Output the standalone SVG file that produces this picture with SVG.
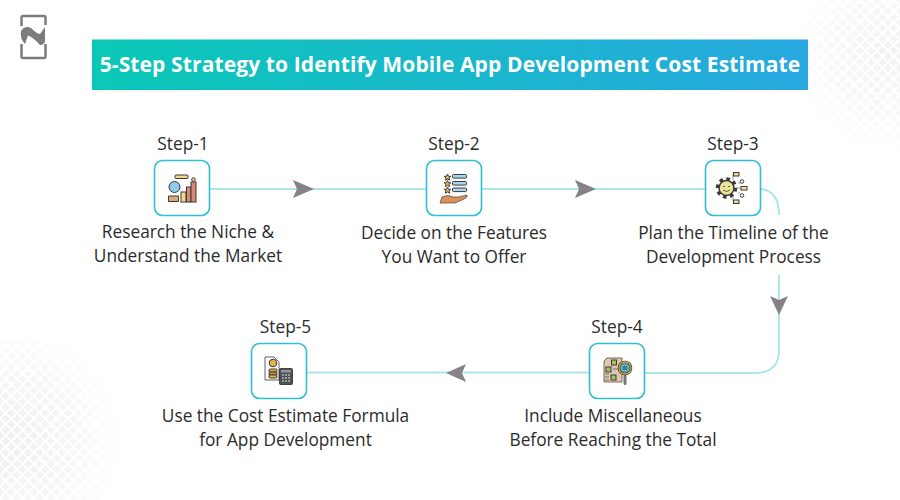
<svg xmlns="http://www.w3.org/2000/svg" width="900" height="500" viewBox="0 0 900 500">
<style>
.t{font-family:"Open Sans","Liberation Sans",sans-serif;font-size:17.300px;fill:#2b2b2b;text-anchor:middle}
.c{fill:none;stroke:#aee6ea;stroke-width:2}
.b{fill:#fff;stroke:#2dbfd2;stroke-width:1.600}
.a{fill:#858387}
.k{stroke:#3a3a3a;stroke-width:1}
</style>
<defs>
<linearGradient id="tg" x1="0" x2="1" y1="0" y2="0"><stop offset="0" stop-color="#0ac8b6"/><stop offset="1" stop-color="#27a8df"/></linearGradient>
<pattern id="dots" width="8" height="8" patternUnits="userSpaceOnUse" patternTransform="rotate(45)"><rect x="1" y="1" width="6" height="6" fill="#e9e9e9"/></pattern>
<radialGradient id="f1" gradientUnits="userSpaceOnUse" cx="5" cy="440" r="120"><stop offset="0" stop-color="#fff" stop-opacity=".7"/><stop offset=".55" stop-color="#fff" stop-opacity=".4"/><stop offset="1" stop-color="#fff" stop-opacity="0"/></radialGradient>
<radialGradient id="f2" gradientUnits="userSpaceOnUse" cx="890" cy="55" r="100"><stop offset="0" stop-color="#fff" stop-opacity=".55"/><stop offset=".6" stop-color="#fff" stop-opacity=".3"/><stop offset="1" stop-color="#fff" stop-opacity="0"/></radialGradient>
<mask id="m1"><rect width="900" height="500" fill="url(#f1)"/></mask>
<mask id="m2"><rect width="900" height="500" fill="url(#f2)"/></mask>
</defs>
<rect width="900" height="500" fill="#fff"/>
<rect x="0" y="340" width="130" height="160" fill="url(#dots)" mask="url(#m1)"/>
<rect x="790" y="0" width="110" height="155" fill="url(#dots)" mask="url(#m2)"/>
<g id="logo">
<path d="M21.500 26V17.500Q21.500 16 23 16H44Q45.500 16 45.500 17.500V25" fill="none" stroke="#7c7c7c" stroke-width="2.500"/>
<path d="M21.500 44V56.500Q21.500 58 23 58H44Q45.500 58 45.500 56.500V44" fill="none" stroke="#7c7c7c" stroke-width="2.500"/>
<path d="M21 31Q25 25 31 28Q37 34 40 34L45 27V41Q44.500 45 40 45Q33 37 28 35.500L25 44Q19.500 38 21 31Z" fill="#7c7c7c"/>
</g>
<g id="title">
<rect x="92" y="39.500" width="716" height="50.500" fill="url(#tg)"/>
<text x="450" y="72" text-anchor="middle" font-family="'Open Sans','Liberation Sans',sans-serif" font-weight="700" font-size="21" letter-spacing=".12" fill="#fff">5-Step Strategy to Identify Mobile App Development Cost Estimate</text>
</g>
<g id="connectors">
<path class="c" d="M210 189H426"/>
<path class="c" d="M482 189H705"/>
<path class="c" d="M761 189Q779 191 779 215"/>
<path class="c" d="M779 275V350Q779 373 755 373H645"/>
<path class="c" d="M589 372.500H307"/>
<path class="a" d="M293 180L314 189L293 198L297 189Z"/>
<path class="a" d="M575 180L596 189L575 198L579 189Z"/>
<path class="a" d="M770 296L779 300L788 296L779 315Z"/>
<path class="a" d="M466 364L446 373L466 382L462 373Z"/>
</g>
<g id="step-1">
<text class="t" x="183" y="150">Step-1</text>
<rect class="b" x="154.500" y="160.500" width="55" height="55" rx="8"/>
<rect class="k" x="175" y="175" width="13" height="3.500" rx="1" fill="#f0d98c"/>
<rect class="k" x="186.500" y="187" width="4.500" height="15" fill="#d88a72"/>
<rect class="k" x="191" y="182" width="5" height="20" fill="#d88a72"/>
<rect class="k" x="181" y="192" width="5" height="10" fill="#f0d98c"/>
<circle class="k" cx="174.500" cy="187" r="5.500" fill="#8fc8e8" stroke-width="1.500"/>
<path class="k" d="M168.500 196h10v5.500h-10z" fill="#e0a878"/>
<circle class="k" cx="193.500" cy="179.500" r="1.800" fill="#f0d98c"/>
</g>
<g id="step-2">
<text class="t" x="454" y="150">Step-2</text>
<rect class="b" x="426.500" y="160.500" width="55" height="55" rx="8"/>
<path class="k" d="M447.500 174l1 2.300h2.300l-1.800 1.600.6 2.300-2.100-1.300-2.100 1.300.6-2.300-1.800-1.600h2.300z" fill="#e6c34a" stroke-width=".7"/>
<path class="k" d="M447.500 180.500l1 2.300h2.300l-1.800 1.600.6 2.300-2.100-1.300-2.100 1.300.6-2.300-1.800-1.600h2.300z" fill="#e6c34a" stroke-width=".7"/>
<path class="k" d="M447.500 187l1 2.300h2.300l-1.800 1.600.6 2.300-2.100-1.300-2.100 1.300.6-2.300-1.800-1.600h2.300z" fill="#e6c34a" stroke-width=".7"/>
<rect class="k" x="452.500" y="174.500" width="14" height="3.600" rx="1" fill="#a9d3ee"/>
<rect class="k" x="452.500" y="181.500" width="14" height="3.600" rx="1" fill="#a9d3ee"/>
<rect class="k" x="452.500" y="188" width="14" height="3.600" rx="1" fill="#a9d3ee"/>
<path d="M440 203L442 197Q448 194 453 197H459L467 195Q468 197 464 199L455 203Z" fill="#d9925f" stroke="#5a3a28" stroke-width=".7"/>
</g>
<g id="step-3">
<text class="t" x="733" y="150">Step-3</text>
<rect class="b" x="705.500" y="160.500" width="55" height="55" rx="8"/>
<path d="M733 180V174H734M738 183H740M737 188H741M738 193H740M733 196V201H734" fill="none" stroke="#8a8a8a" stroke-width=".8"/>
<circle cx="726.500" cy="188" r="9" fill="none" stroke="#3a3a3a" stroke-width="3.500" stroke-dasharray="3.500 3.500"/>
<circle cx="726.500" cy="188" r="7.500" fill="#efe59a" stroke="#3a3a3a" stroke-width="1.500"/>
<path d="M723 186.500h2M728 186.500h2M723 190q3.500 3 7 0" fill="none" stroke="#3a3a3a" stroke-width=".8"/>
<rect class="k" x="733.500" y="172.500" width="5.500" height="3.500" fill="#efd98c" stroke-width=".7"/>
<circle class="k" cx="742" cy="181.500" r="1.800" fill="#fff" stroke-width=".7"/>
<rect class="k" x="741" y="186.500" width="6" height="3.500" fill="#efe59a" stroke-width=".5"/>
<circle class="k" cx="742" cy="195.500" r="1.800" fill="#fff" stroke-width=".7"/>
<rect class="k" x="733.500" y="200" width="5.500" height="3.500" fill="#efd98c" stroke-width=".7"/>
</g>
<g id="step-4">
<text class="t" x="617" y="333">Step-4</text>
<rect class="b" x="589.500" y="343.500" width="55" height="55" rx="8"/>
<path d="M607 358H622V382H604V361Z" fill="#dcc7b0" stroke="#5a4a3a" stroke-width=".8"/>
<rect class="k" x="611.500" y="360" width="5" height="5" fill="#a9c25a" stroke-width=".8"/>
<rect class="k" x="606" y="367" width="5" height="5" fill="#a9c25a" stroke-width=".8"/>
<rect class="k" x="611" y="375" width="5" height="5" fill="#a9c25a" stroke-width=".8"/>
<path d="M605 374H609M605 377H609M605 380H609M613 369H618" stroke="#555" stroke-width=".7"/>
<path d="M625 373V383.500" stroke="#777" stroke-width="3" stroke-linecap="round"/>
<circle cx="625" cy="368" r="6" fill="#5fb3c8" stroke="#2f2f2f" stroke-width="2.600"/>
<circle cx="625" cy="368" r="6" fill="none" stroke="#d9a93a" stroke-width="1.300"/>
<circle cx="625" cy="368" r="2.500" fill="#3a7f9c"/>
</g>
<g id="step-5">
<text class="t" x="285.500" y="333">Step-5</text>
<rect class="b" x="251.500" y="343.500" width="55" height="55" rx="8"/>
<path d="M265 357H274L279 362V380H265Z" fill="#fff" stroke="#3a3a3a" stroke-width=".8"/>
<circle class="k" cx="273" cy="363" r="3.800" fill="#e6b24a" stroke-width=".8"/>
<rect class="k" x="269" y="369" width="8" height="3" rx="1" fill="#e6b24a" stroke-width=".8"/>
<rect class="k" x="269" y="372" width="8" height="3" rx="1" fill="#d88a42" stroke-width=".8"/>
<rect class="k" x="269" y="375" width="8" height="3" rx="1" fill="#e6b24a" stroke-width=".8"/>
<rect x="279.500" y="368.500" width="13" height="16" rx="1" fill="#4d5256" stroke="#2a2a2a" stroke-width=".8"/>
<rect x="281" y="370" width="10" height="2.500" fill="#8f9598"/>
<path d="M282 375h2M285 375h2M288 375h2M282 378h2M285 378h2M288 378h2M282 381h2M285 381h2M288 381h2" stroke="#aeb3b6" stroke-width="1.500"/>
</g>
<g id="labels">
<text class="t" x="188" y="238">Research the Niche &amp;</text>
<text class="t" x="188" y="262">Understand the Market</text>
<text class="t" x="454" y="239">Decide on the Features</text>
<text class="t" x="454" y="263">You Want to Offer</text>
<text class="t" x="733.500" y="239">Plan the Timeline of the</text>
<text class="t" x="733.500" y="263">Development Process</text>
<text class="t" x="613" y="422">Include Miscellaneous</text>
<text class="t" x="613" y="446">Before Reaching the Total</text>
<text class="t" x="285.500" y="422">Use the Cost Estimate Formula</text>
<text class="t" x="285.500" y="446">for App Development</text>
</g>
</svg>
